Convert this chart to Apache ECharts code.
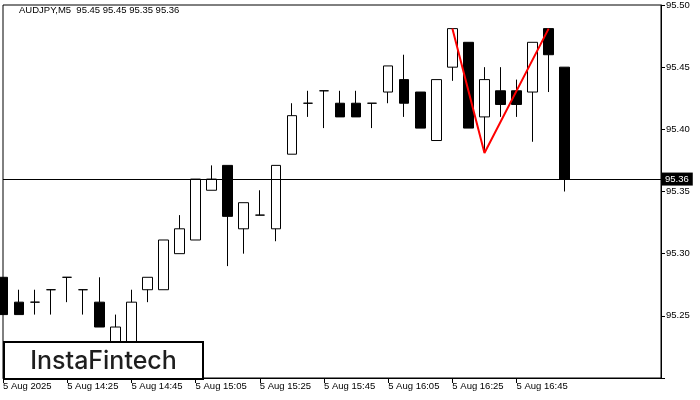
<!DOCTYPE html>
<html>
<head>
<meta charset="utf-8">
<script src="https://cdn.jsdelivr.net/npm/echarts@6/dist/echarts.min.js"></script>
<style>
html,body{margin:0;padding:0;background:#fff;}
#chart{width:700px;height:400px;}
</style>
</head>
<body>
<div id="chart"></div>
<script>
// Candle times (M5 bars)
var times = ['14:05','14:10','14:15','14:20','14:25','14:30','14:35','14:40','14:45','14:50',
  '14:55','15:00','15:05','15:10','15:15','15:20','15:25','15:30','15:35','15:40',
  '15:45','15:50','15:55','16:00','16:05','16:10','16:15','16:20','16:25','16:30',
  '16:35','16:40','16:45','16:50','16:55','17:00'];
var opens  = [95.281,95.261,95.261,95.271,95.281,95.271,95.261,95.214,95.212,95.271,
  95.271,95.300,95.311,95.351,95.371,95.320,95.331,95.320,95.380,95.421,
  95.431,95.421,95.421,95.421,95.430,95.440,95.430,95.391,95.450,95.470,
  95.410,95.431,95.431,95.430,95.481,95.450];
var highs  = [95.281,95.271,95.271,95.271,95.281,95.271,95.281,95.251,95.271,95.281,
  95.311,95.331,95.360,95.371,95.371,95.341,95.351,95.371,95.421,95.431,
  95.431,95.431,95.431,95.421,95.451,95.460,95.430,95.440,95.481,95.470,
  95.450,95.450,95.440,95.470,95.481,95.450];
var lows   = [95.251,95.251,95.251,95.251,95.261,95.251,95.241,95.210,95.208,95.261,
  95.271,95.300,95.311,95.351,95.290,95.300,95.331,95.310,95.380,95.410,
  95.401,95.410,95.410,95.401,95.421,95.410,95.401,95.391,95.439,95.401,
  95.381,95.410,95.410,95.390,95.430,95.350];
var closes = [95.251,95.251,95.261,95.271,95.281,95.271,95.241,95.241,95.261,95.281,
  95.311,95.320,95.360,95.360,95.330,95.341,95.331,95.371,95.411,95.421,
  95.431,95.410,95.410,95.421,95.451,95.421,95.401,95.440,95.481,95.401,
  95.440,95.420,95.420,95.470,95.460,95.360];
// empty slots to the right of the last bar
var emptySlots = 6;
// x tick labels, one every 4 bars
var tickLabels = ['5 Aug 2025','5 Aug 14:25','5 Aug 14:45','5 Aug 15:05','5 Aug 15:25',
  '5 Aug 15:45','5 Aug 16:05','5 Aug 16:25','5 Aug 16:45'];
// pattern (double top) line: [bar index, price]
var patternX = [28, 30, 34];
var patternY = [95.481, 95.381, 95.481];
var yTicks = ['95.25','95.30','95.35','95.40','95.45','95.50'];
var titleText = 'AUDJPY,M5  95.45 95.45 95.35 95.36';
var lastPrice = 95.36;

var cats = times.slice();
for (var i = 0; i < emptySlots; i++) cats.push('');
var candleData = times.map(function(t, i){ return [opens[i], closes[i], lows[i], highs[i]]; });
var patternData = patternX.map(function(x, i){ return [x, patternY[i]]; });

var FONT = 'Liberation Sans';
var chart = echarts.init(document.getElementById('chart'), null, {renderer:'canvas'});
chart.setOption({
  animation: false,
  backgroundColor: '#fff',
  grid: {left: 3, right: 39, top: 4, bottom: 22, show: true, borderColor: '#000', borderWidth: 1, backgroundColor: 'transparent'},
  xAxis: {
    type: 'category', data: cats, boundaryGap: false,
    axisLine: {show: true, lineStyle: {color: '#000', width: 1}},
    axisTick: {show: true, length: 5, lineStyle: {color: '#000'},
      interval: function(idx){ return idx % 4 === 0 && idx / 4 < tickLabels.length; }},
    axisLabel: {show: true, color: '#000', fontFamily: FONT, fontSize: 9.5, align: 'left', margin: 3,
      interval: function(idx){ return idx % 4 === 0 && idx / 4 < tickLabels.length; },
      formatter: function(v, idx){ return tickLabels[idx / 4] || ''; }},
    splitLine: {show: false}
  },
  yAxis: {
    type: 'value', position: 'right', min: 95.20, max: 95.50, interval: 0.05, scale: true,
    axisLine: {show: true, lineStyle: {color: '#000', width: 1}},
    axisTick: {show: true, length: 4, lineStyle: {color: '#000'}},
    axisLabel: {color: '#000', fontFamily: FONT, fontSize: 9.5, margin: 5,
      formatter: function(v){ var s = v.toFixed(2); return yTicks.indexOf(s) >= 0 ? s : ''; }},
    splitLine: {show: false}
  },
  series: [
    {
      type: 'candlestick', data: candleData, barWidth: 10, clip: false,
      itemStyle: {color: '#ffffff', color0: '#000000', borderColor: '#000000', borderColor0: '#000000', borderColorDoji: '#000000', borderWidth: 1},
      markLine: {
        silent: true, symbol: 'none', animation: false,
        lineStyle: {color: '#000', width: 1, type: 'solid'},
        label: {show: true, position: 'end', distance: 1, formatter: function(p){ return p.value.toFixed(2); },
          backgroundColor: '#000', color: '#fff', fontFamily: FONT, fontSize: 9.5, padding: [2, 4, 1, 3]},
        data: [{yAxis: lastPrice}]
      },
      z: 2
    },
    {
      type: 'line', data: patternData, symbol: 'none', showSymbol: false,
      lineStyle: {color: '#ff0000', width: 2}, z: 5, silent: true
    }
  ],
  graphic: [
    {type: 'text', left: 19, top: 5, style: {text: titleText, fill: '#000', font: '9.5px "Liberation Sans"'}, z: 50},
    {type: 'group', left: 3, top: 341, z: 100, children: [
      {type: 'rect', z: 100, shape: {x: 0, y: 0, width: 199, height: 37}, style: {fill: '#fff', stroke: '#000', lineWidth: 2}},
      {type: 'text', z: 101, style: {x: 99.5, y: 19, text: 'InstaFintech', fill: '#1e1e1e', font: '500 25px Inter', textAlign: 'center', textVerticalAlign: 'middle'}}
    ]}
  ]
});
</script>
</body>
</html>
